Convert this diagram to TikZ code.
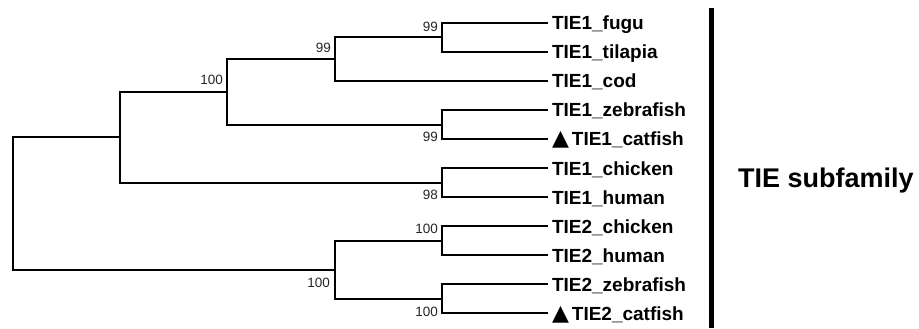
\documentclass[tikz,border=0pt]{standalone}
\usepackage{fontspec}
\setmainfont{Liberation Sans}
\newfontfamily\symfont{DejaVu Sans}
\begin{document}
\begin{tikzpicture}[x=1pt,y=-1pt,
  br/.style={line width=2pt, line join=miter},
  leaf/.style={anchor=west, inner xsep=4pt, inner ysep=0pt, outer sep=0pt,
    text height=14pt, text depth=0pt, font=\fontsize{19}{19}\selectfont\bfseries},
  boot/.style={anchor=east, inner sep=0pt, font=\fontsize{13.5}{13.5}\selectfont, text=black!85},
  tri/.style={}]
\useasboundingbox[fill=white] (0,0) rectangle (919,329);
% leaves
\node[leaf] (fugu) at (548,23) {TIE1\_fugu};
\node[leaf] (tila) at (548,52) {TIE1\_tilapia};
\node[leaf] (cod)  at (548,81) {TIE1\_cod};
\node[leaf] (zeb1) at (548,110) {TIE1\_zebrafish};
\node[leaf] (cat1) at (548,139) {{\symfont\fontsize{22}{22}\selectfont ▲}\hspace{3pt}TIE1\_catfish};
\node[leaf] (chk1) at (548,168) {TIE1\_chicken};
\node[leaf] (hum1) at (548,197) {TIE1\_human};
\node[leaf] (chk2) at (548,226) {TIE2\_chicken};
\node[leaf] (hum2) at (548,255) {TIE2\_human};
\node[leaf] (zeb2) at (548,284) {TIE2\_zebrafish};
\node[leaf] (cat2) at (548,313) {{\symfont\fontsize{22}{22}\selectfont ▲}\hspace{3pt}TIE2\_catfish};
% internal nodes
\coordinate (A) at (442,37.5);
\coordinate (B) at (335,59.25);
\coordinate (C) at (442,124.5);
\coordinate (D) at (227,91.9);
\coordinate (E) at (442,182.5);
\coordinate (F) at (120,137.2);
\coordinate (G) at (442,240.5);
\coordinate (H) at (442,298.5);
\coordinate (I) at (335,269.5);
\coordinate (R) at (12.7,203.4);
% branches
\draw[br] (fugu.west) -| (A) |- (tila.west);
\draw[br] (A) -| (B) |- (cod.west);
\draw[br] (zeb1.west) -| (C) |- (cat1.west);
\draw[br] (B) -| (D) |- (C);
\draw[br] (chk1.west) -| (E) |- (hum1.west);
\draw[br] (D) -| (F) |- (E);
\draw[br] (chk2.west) -| (G) |- (hum2.west);
\draw[br] (zeb2.west) -| (H) |- (cat2.west);
\draw[br] (G) -| (I) |- (H);
\draw[br] (F) -| (R) |- (I);
% bootstrap values
\node[boot] (bA) at (438,27) {99};
\node[boot] (bB) at (331,48) {99};
\node[boot] (bD) at (223,80) {100};
\node[boot] (bC) at (438,137) {99};
\node[boot] (bE) at (438,195) {98};
\node[boot] (bG) at (438,229) {100};
\node[boot] (bI) at (330,283) {100};
\node[boot] (bH) at (438,312) {100};
% bar and label
\coordinate (barTop) at (711,8);
\coordinate (barBot) at (711,328);
\draw[line width=5pt] (barTop) -- (barBot);
\node[anchor=base west, inner sep=0pt, font=\fontsize{27}{27}\selectfont\bfseries] (sub) at (738,187) {TIE subfamily};
\end{tikzpicture}
\end{document}
